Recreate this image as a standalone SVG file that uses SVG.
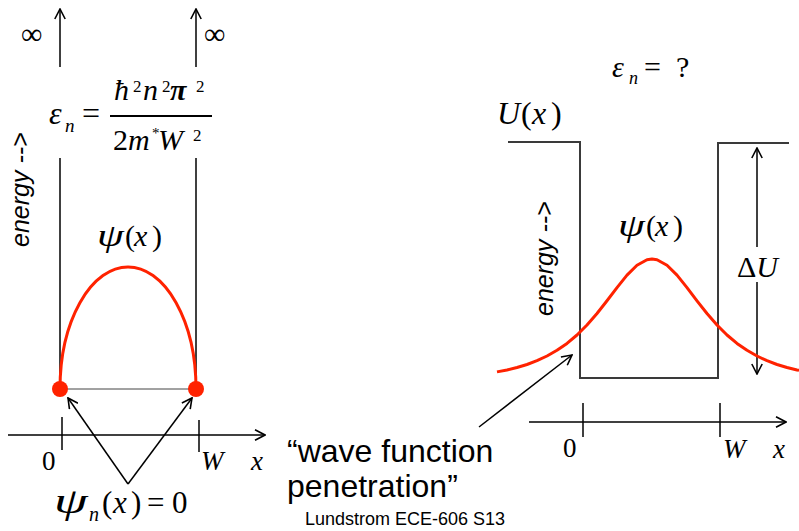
<svg xmlns="http://www.w3.org/2000/svg" width="799" height="531" viewBox="0 0 799 531">
<style>
.m{font-family:"Liberation Serif","Times New Roman",serif;fill:#000}
.i{font-style:italic}
.s{font-family:"Liberation Sans",Arial,sans-serif;fill:#000}
.ln{stroke:#000;stroke-width:1.5;fill:none}
.pot{stroke:#3a3a3a;stroke-width:2;fill:none}
.red{stroke:#ff2200;stroke-width:3;fill:none;stroke-linejoin:round}
</style>
<defs>
<marker id="arr" viewBox="0 0 12 12" refX="11" refY="6" markerWidth="12" markerHeight="12" markerUnits="userSpaceOnUse" orient="auto">
<path d="M1,0.8 L11,6 L1,11.2" fill="none" stroke="#000" stroke-width="1.6"/>
</marker>
</defs>
<rect width="799" height="531" fill="#fff"/>

<g id="left-well">
<line class="ln" x1="60" y1="67" x2="60" y2="9" marker-end="url(#arr)"/>
<line class="ln" x1="196" y1="67" x2="196" y2="9" marker-end="url(#arr)"/>
<line class="ln" x1="60" y1="158" x2="60" y2="389"/>
<line class="ln" x1="196" y1="158" x2="196" y2="389"/>
<text class="m" x="21" y="44" font-size="30">∞</text>
<text class="m" x="204" y="44" font-size="30">∞</text>
<line x1="60" y1="389" x2="196" y2="389" stroke="#444" stroke-width="1"/>
</g>

<g id="left-formula">
<text class="m i" x="49" y="124" font-size="32">ε</text>
<text class="m i" x="65" y="132" font-size="19">n</text>
<text class="m" x="82" y="124" font-size="32">=</text>
<line x1="110" y1="116" x2="212" y2="116" stroke="#000" stroke-width="2"/>
<text class="m i" x="114" y="100" font-size="30">ħ</text>
<text class="m" x="133" y="92" font-size="17">2</text>
<text class="m i" x="143" y="100" font-size="30">n</text>
<text class="m" x="162" y="92" font-size="17">2</text>
<text class="m i" x="170" y="100" font-size="30" font-weight="bold">π</text>
<text class="m" x="196" y="92" font-size="17">2</text>
<text class="m" x="113" y="150" font-size="30">2</text>
<text class="m i" x="128" y="150" font-size="30">m</text>
<text class="m" x="152" y="138" font-size="15">*</text>
<text class="m i" x="158" y="150" font-size="30">W</text>
<text class="m" x="193" y="141" font-size="17">2</text>
</g>

<g id="left-energy-label">
<text class="s i" font-size="25" transform="translate(29,247) rotate(-90)">energy --&gt;</text>
</g>

<g id="left-psi">
<path class="red" d="M60,389 A68,122 0 0 1 196,389"/>
<circle cx="60" cy="389" r="8" fill="#ff2200"/>
<circle cx="196" cy="389" r="8" fill="#ff2200"/>
<text class="m i" font-size="32" transform="translate(97,246) scale(1.35,1)">ψ</text>
<text class="m" x="125" y="246" font-size="30">(</text>
<text class="m i" x="134" y="246" font-size="30">x</text>
<text class="m" x="152" y="246" font-size="30">)</text>
</g>

<g id="left-axis">
<line class="ln" x1="8" y1="435" x2="265" y2="435" marker-end="url(#arr)"/>
<line class="ln" x1="62" y1="417" x2="62" y2="450"/>
<line class="ln" x1="199" y1="420" x2="199" y2="452"/>
<text class="m" x="42" y="470" font-size="27">0</text>
<text class="m i" x="201" y="470" font-size="27">W</text>
<text class="m i" x="251" y="470" font-size="27">x</text>
</g>

<g id="left-zero-label">
<text class="m i" font-size="35" transform="translate(54,513) scale(1.55,1)">ψ</text>
<text class="m i" x="89" y="521" font-size="20">n</text>
<text class="m" x="102" y="513" font-size="31">(</text>
<text class="m i" x="113" y="513" font-size="31">x</text>
<text class="m" x="131" y="513" font-size="31">)</text>
<text class="m" x="147" y="513" font-size="31">=</text>
<text class="m" x="172" y="513" font-size="31">0</text>
</g>

<g id="connectors">
<line class="ln" x1="128" y1="484" x2="68" y2="398" marker-end="url(#arr)"/>
<line class="ln" x1="128" y1="484" x2="192" y2="398" marker-end="url(#arr)"/>
<line class="ln" x1="479" y1="427" x2="572" y2="355" marker-end="url(#arr)"/>
</g>

<g id="penetration-label">
<text class="s" x="287" y="462" font-size="32">“wave function</text>
<text class="s" x="287" y="497" font-size="32">penetration”</text>
</g>

<g id="credit">
<text class="s" x="305" y="525" font-size="18">Lundstrom ECE-606 S13</text>
</g>

<g id="right-well">
<text class="m i" x="612" y="77" font-size="30">ε</text>
<text class="m i" x="629" y="84" font-size="18">n</text>
<text class="m" x="644" y="77" font-size="30">=</text>
<text class="m" x="676" y="77" font-size="30">?</text>
<text class="m i" x="497" y="124" font-size="32">U</text>
<text class="m" x="521" y="124" font-size="32">(</text>
<text class="m i" x="532" y="124" font-size="32">x</text>
<text class="m" x="551" y="124" font-size="32">)</text>
<path class="pot" d="M508,142 H580 V378 H718 V143 H789"/>
<text class="s i" font-size="25" transform="translate(553,316) rotate(-90)">energy --&gt;</text>
</g>

<g id="delta-u">
<line class="ln" x1="757" y1="247" x2="757" y2="148" marker-end="url(#arr)"/>
<line class="ln" x1="757" y1="282" x2="757" y2="374" marker-end="url(#arr)"/>
<text class="m" x="737" y="277" font-size="30"><tspan>Δ</tspan><tspan class="i">U</tspan></text>
</g>

<g id="right-psi">
<polyline class="red" points="497,371.9 507,370 517,367.5 527,364.5 537,360.7 547,356 557,350.3 567,343.4 577,335 587,325 597,313.5 607,300.8 617,287.6 627,275.1 637,265.3 647,259.7 652,259 657,259.7 667,265.3 677,275.1 687,287.6 697,300.8 707,313.5 717,325 727,335 737,343.4 747,350.3 757,356 767,360.7 777,364.5 787,367.5 797,370 799,370.4"/>
<text class="m i" font-size="32" transform="translate(618,236) scale(1.35,1)">ψ</text>
<text class="m" x="646" y="236" font-size="30">(</text>
<text class="m i" x="655" y="236" font-size="30">x</text>
<text class="m" x="673" y="236" font-size="30">)</text>
</g>

<g id="right-axis">
<line class="ln" x1="529" y1="422" x2="786" y2="422" marker-end="url(#arr)"/>
<line class="ln" x1="583" y1="403" x2="583" y2="437"/>
<line class="ln" x1="720" y1="403" x2="720" y2="437"/>
<text class="m" x="563" y="457" font-size="27">0</text>
<text class="m i" x="723" y="458" font-size="27">W</text>
<text class="m i" x="773" y="458" font-size="27">x</text>
</g>
</svg>
